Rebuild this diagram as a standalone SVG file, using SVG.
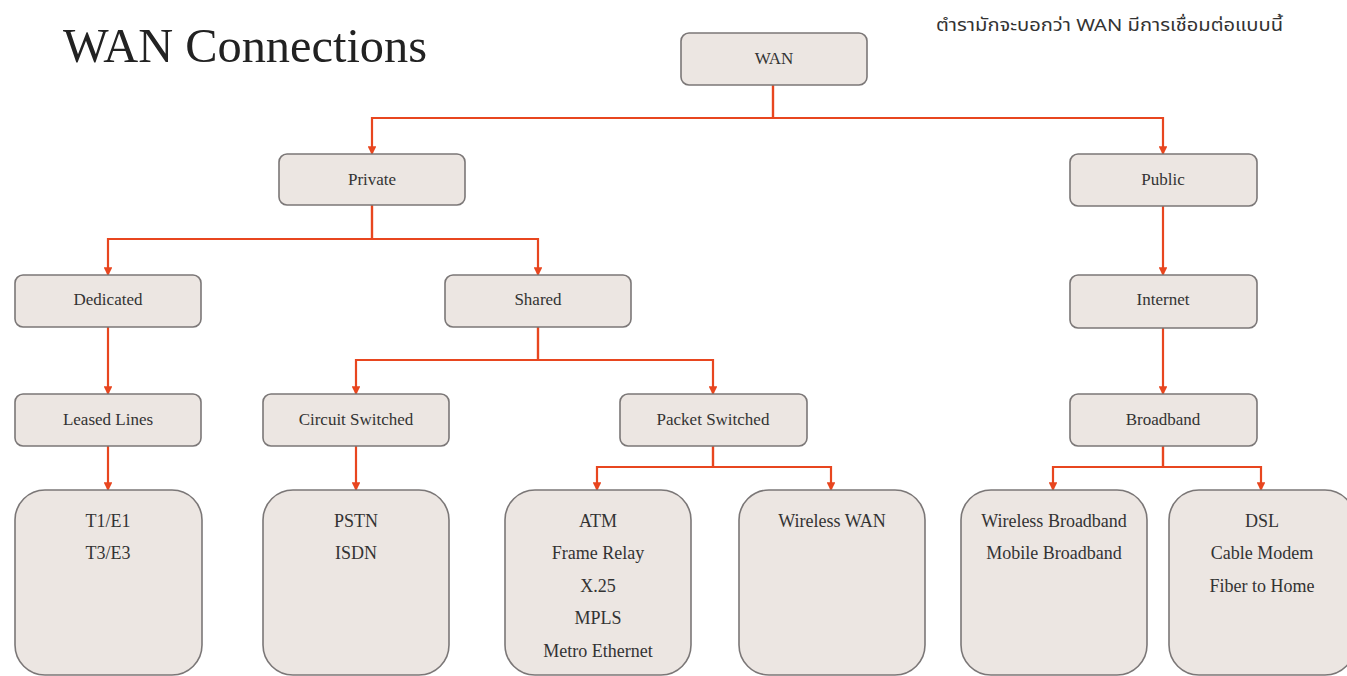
<svg xmlns="http://www.w3.org/2000/svg" width="1347" height="676" viewBox="0 0 1347 676">
  <style>
    .box { fill: #ece6e2; stroke: #7b7777; stroke-width: 1.6; }
    .lbl { font-family: "Liberation Serif", "DejaVu Serif", serif; font-size: 17px; fill: #333; text-anchor: middle; }
    .item { font-family: "Liberation Serif", "DejaVu Serif", serif; font-size: 18px; fill: #333; text-anchor: middle; }
    .edge { fill: none; stroke: #e8461f; stroke-width: 2.2; marker-end: url(#arrow); }
    .title { font-family: "Liberation Serif", "DejaVu Serif", serif; font-size: 48px; fill: #222; }
    .note { font-family: "Noto Sans Thai", "DejaVu Sans", "Liberation Serif", serif; font-size: 17px; fill: #333; }
  </style>
  <defs>
    <marker id="arrow" viewBox="0 0 8 8" refX="7" refY="4" markerWidth="4" markerHeight="4" orient="auto" markerUnits="strokeWidth">
      <path d="M0 0 L8 4 L0 8 z" fill="#e8461f"/>
    </marker>
  </defs>

  <rect width="1347" height="676" fill="#ffffff"/>

  <text class="title" x="63" y="62" textLength="364" lengthAdjust="spacingAndGlyphs">WAN Connections</text>
  <text class="note" x="936" y="31" textLength="347" lengthAdjust="spacingAndGlyphs">ตำรามักจะบอกว่า WAN มีการเชื่อมต่อแบบนี้</text>

  <!-- connectors -->
  <g id="connectors">
    <path class="edge" d="M773 85 V118 H372 V154"/>
    <path class="edge" d="M773 85 V118 H1163 V154"/>
    <path class="edge" d="M372 205 V239 H108 V275"/>
    <path class="edge" d="M372 205 V239 H538 V275"/>
    <path class="edge" d="M1163 206 V275"/>
    <path class="edge" d="M108 327 V394"/>
    <path class="edge" d="M538 327 V360 H356 V394"/>
    <path class="edge" d="M538 327 V360 H713 V394"/>
    <path class="edge" d="M1163 328 V394"/>
    <path class="edge" d="M108 446 V490"/>
    <path class="edge" d="M356 446 V490"/>
    <path class="edge" d="M713 446 V467 H597 V490"/>
    <path class="edge" d="M713 446 V467 H831 V490"/>
    <path class="edge" d="M1163 446 V467 H1053 V490"/>
    <path class="edge" d="M1163 446 V467 H1261 V490"/>
  </g>

  <!-- level 0 -->
  <g id="wan">
    <rect class="box" x="681" y="33" width="186" height="52" rx="8"/>
    <text class="lbl" x="774" y="64">WAN</text>
  </g>

  <!-- level 1 -->
  <g id="private">
    <rect class="box" x="279" y="154" width="186" height="51" rx="8"/>
    <text class="lbl" x="372" y="185">Private</text>
  </g>
  <g id="public">
    <rect class="box" x="1070" y="154" width="187" height="52" rx="8"/>
    <text class="lbl" x="1163" y="185">Public</text>
  </g>

  <!-- level 2 -->
  <g id="dedicated">
    <rect class="box" x="15" y="275" width="186" height="52" rx="8"/>
    <text class="lbl" x="108" y="305">Dedicated</text>
  </g>
  <g id="shared">
    <rect class="box" x="445" y="275" width="186" height="52" rx="8"/>
    <text class="lbl" x="538" y="305">Shared</text>
  </g>
  <g id="internet">
    <rect class="box" x="1070" y="275" width="187" height="53" rx="8"/>
    <text class="lbl" x="1163" y="305">Internet</text>
  </g>

  <!-- level 3 -->
  <g id="leased-lines">
    <rect class="box" x="15" y="394" width="186" height="52" rx="8"/>
    <text class="lbl" x="108" y="425">Leased Lines</text>
  </g>
  <g id="circuit-switched">
    <rect class="box" x="263" y="394" width="186" height="52" rx="8"/>
    <text class="lbl" x="356" y="425">Circuit Switched</text>
  </g>
  <g id="packet-switched">
    <rect class="box" x="620" y="394" width="187" height="52" rx="8"/>
    <text class="lbl" x="713" y="425">Packet Switched</text>
  </g>
  <g id="broadband">
    <rect class="box" x="1070" y="394" width="187" height="52" rx="8"/>
    <text class="lbl" x="1163" y="425">Broadband</text>
  </g>

  <!-- leaves -->
  <g id="leased-types">
    <rect class="box" x="15" y="490" width="187" height="185" rx="30"/>
    <text class="item" x="108" y="527">T1/E1</text>
    <text class="item" x="108" y="559">T3/E3</text>
  </g>
  <g id="circuit-types">
    <rect class="box" x="263" y="490" width="186" height="185" rx="30"/>
    <text class="item" x="356" y="527">PSTN</text>
    <text class="item" x="356" y="559">ISDN</text>
  </g>
  <g id="packet-types">
    <rect class="box" x="505" y="490" width="186" height="185" rx="30"/>
    <text class="item" x="598" y="527">ATM</text>
    <text class="item" x="598" y="559">Frame Relay</text>
    <text class="item" x="598" y="592">X.25</text>
    <text class="item" x="598" y="624">MPLS</text>
    <text class="item" x="598" y="657">Metro Ethernet</text>
  </g>
  <g id="wireless-wan">
    <rect class="box" x="739" y="490" width="186" height="185" rx="30"/>
    <text class="item" x="832" y="527">Wireless WAN</text>
  </g>
  <g id="broadband-wireless">
    <rect class="box" x="961" y="490" width="186" height="185" rx="30"/>
    <text class="item" x="1054" y="527">Wireless Broadband</text>
    <text class="item" x="1054" y="559">Mobile Broadband</text>
  </g>
  <g id="broadband-wired">
    <rect class="box" x="1169" y="490" width="186" height="185" rx="30"/>
    <text class="item" x="1262" y="527">DSL</text>
    <text class="item" x="1262" y="559">Cable Modem</text>
    <text class="item" x="1262" y="592">Fiber to Home</text>
  </g>
</svg>
